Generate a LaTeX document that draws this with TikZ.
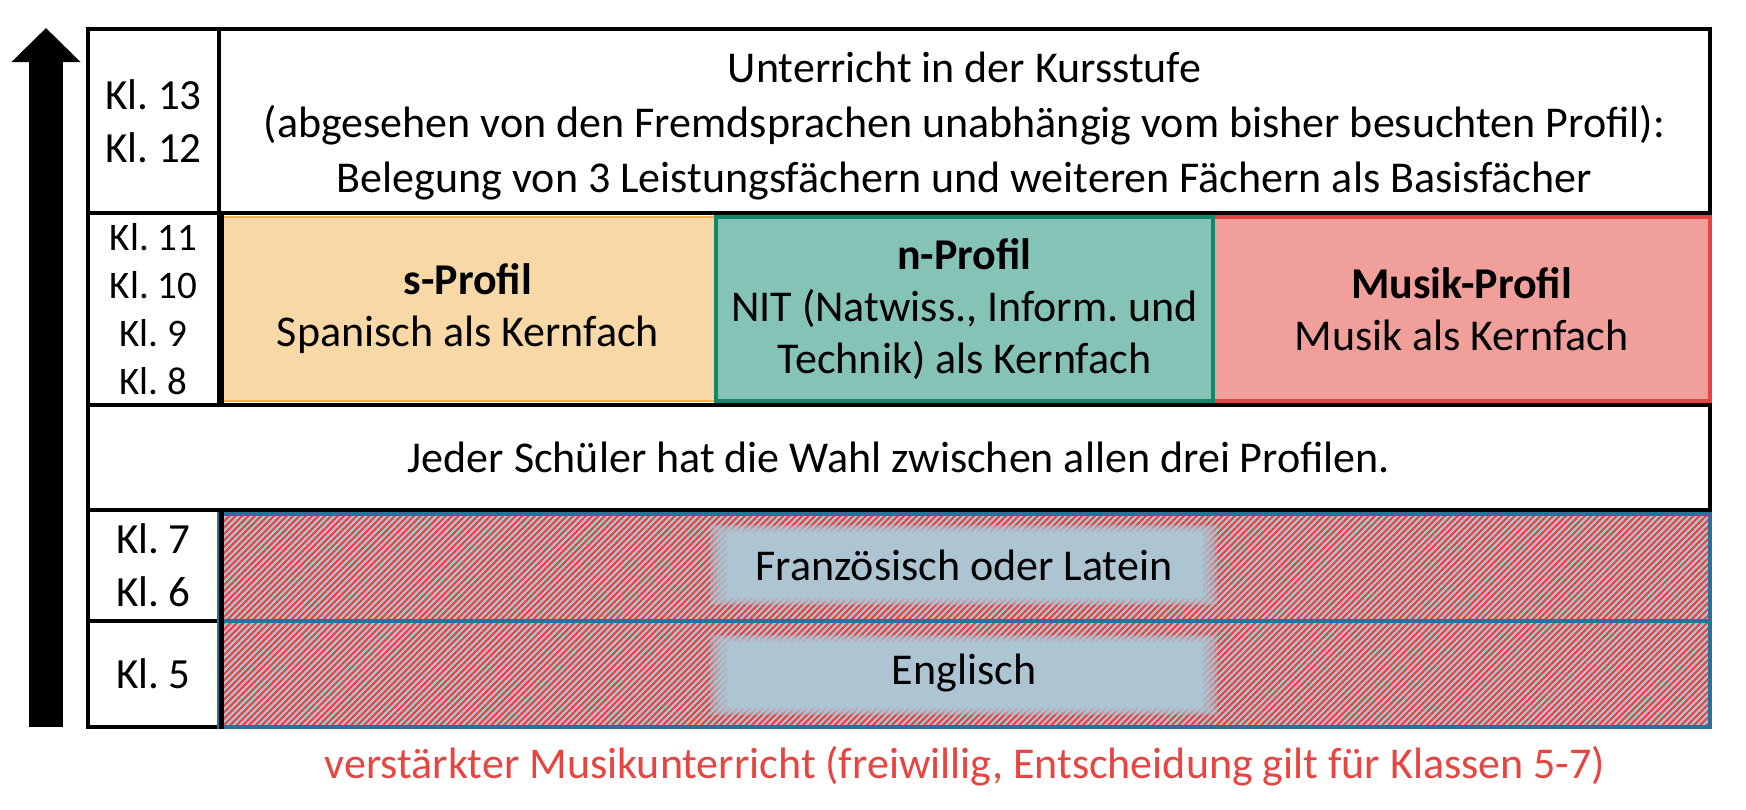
\documentclass[tikz,border=0pt]{standalone}
\usepackage{fontspec}
\setmainfont{Carlito}
\usetikzlibrary{arrows.meta,patterns.meta}
\frenchspacing
\definecolor{sfill}{HTML}{F8D8A6}
\definecolor{sline}{HTML}{F4B04A}
\definecolor{nfill}{HTML}{85C3B6}
\definecolor{nline}{HTML}{12876A}
\definecolor{mfill}{HTML}{F09F9B}
\definecolor{mline}{HTML}{E84343}
\definecolor{hbg}{HTML}{ADC4D3}
\definecolor{hline}{HTML}{2E6F9A}
\definecolor{hred}{HTML}{E8423F}
\definecolor{rtext}{HTML}{E84440}
\tikzset{
  cell/.style={draw=black, line width=4.5pt, rectangle, inner sep=0pt, align=center,
    font=\fontsize{44}{54}\selectfont},
  klcell/.style={cell, font=\fontsize{43}{53}\selectfont},
  klsmall/.style={cell, font=\fontsize{39}{48}\selectfont},
  profbox/.style={rectangle, inner sep=0pt, align=center, font=\fontsize{44}{52}\selectfont},
  hatchrow/.style={rectangle, inner sep=0pt, draw=hline, line width=4pt,
    preaction={fill=hbg},
    preaction={pattern={Lines[angle=45,distance=4.5pt,line width=2.1pt]}, pattern color=hred}},
  plaintext/.style={inner sep=0pt, align=center, font=\fontsize{44}{54}\selectfont},
}
\begin{document}
\begin{tikzpicture}[x=1pt,y=-1pt]
\useasboundingbox (0,0) rectangle (1746,809);
\fill[white] (0,0) rectangle (1746,809);
% arrow
\coordinate (arrowbot) at (46,727);
\coordinate (arrowtip) at (46,28);
\draw[line width=34pt, -{Triangle[length=34pt,width=67pt]}] (arrowbot) -- (arrowtip);
% black cells
\node[klcell, minimum width=131pt, minimum height=184pt] (kl13) at (153.5,121) {Kl. 13\\Kl. 12};
\node[cell, minimum width=1491pt, minimum height=184pt] (top) at (964.5,121) {};
\node[plaintext, font=\fontsize{44}{55}\selectfont] (toptext) at (964.5,126)
  {Unterricht in der Kursstufe\\(abgesehen von den Fremdsprachen unabhängig vom bisher besuchten Profil):\\Belegung von 3 Leistungsfächern und weiteren Fächern als Basisfächer};
\node[klsmall, minimum width=131pt, minimum height=192pt] (kl11) at (153.5,309) {Kl. 11\\Kl. 10\\Kl. 9\\Kl. 8};
\node[cell, minimum width=1491pt, minimum height=192pt] (prow) at (964.5,309) {};
\node[cell, minimum width=1622pt, minimum height=105pt] (jeder) at (899,457.5) {Jeder Schüler hat die Wahl zwischen allen drei Profilen.};
\node[klcell, minimum width=131pt, minimum height=111pt] (kl7) at (153.5,565.5) {Kl. 7\\Kl. 6};
\node[klcell, minimum width=131pt, minimum height=106pt] (kl5) at (153.5,674) {Kl. 5};
% profile boxes
\node[profbox, fill=sfill, draw=sline, line width=2.5pt, minimum width=496pt, minimum height=184pt] (sprof) at (468,309)
  {\textbf{s-Profil}\\Spanisch als Kernfach};
\node[profbox, fill=mfill, draw=mline, line width=4pt, minimum width=497pt, minimum height=184pt] (mprof) at (1461.5,309)
  {\textbf{Musik-Profil}\\Musik als Kernfach};
\node[profbox, fill=nfill, draw=nline, line width=4.5pt, minimum width=497pt, minimum height=184pt] (nprof) at (964.5,309)
  {\textbf{n-Profil}\\NIT (Natwiss., Inform. und\\Technik) als Kernfach};
\draw[line width=4.5pt] (kl11.north east) -- (kl11.south east);
% hatched rows
\node[hatchrow, minimum width=1491pt, minimum height=107pt] (frrow) at (964.5,567.5) {};
\node[hatchrow, minimum width=1491pt, minimum height=106pt] (enrow) at (964.5,674) {};
\draw[line width=4.5pt] (kl7.north east) -- (kl5.south east);
% soft plain patches
\foreach \i in {0,...,4} {
  \fill[hbg, fill opacity=0.35] (710+\i*3.4,525+\i*1.4) rectangle (1217-\i*3.4,605-\i*1.4);
  \fill[hbg, fill opacity=0.35] (710+\i*3.4,635+\i*1.4) rectangle (1217-\i*3.4,715-\i*1.4);
}
\fill[hbg] (727,532) rectangle (1203,598);
\fill[hbg] (727,642) rectangle (1203,708);
\node[plaintext] (frtext) at (964,565) {Französisch oder Latein};
\node[plaintext] (entext) at (964,673) {Englisch};
% red note
\node[plaintext, text=rtext] (note) at (965,766)
  {verstärkter Musikunterricht (freiwillig, Entscheidung gilt für Klassen 5-7)};
\end{tikzpicture}
\end{document}
